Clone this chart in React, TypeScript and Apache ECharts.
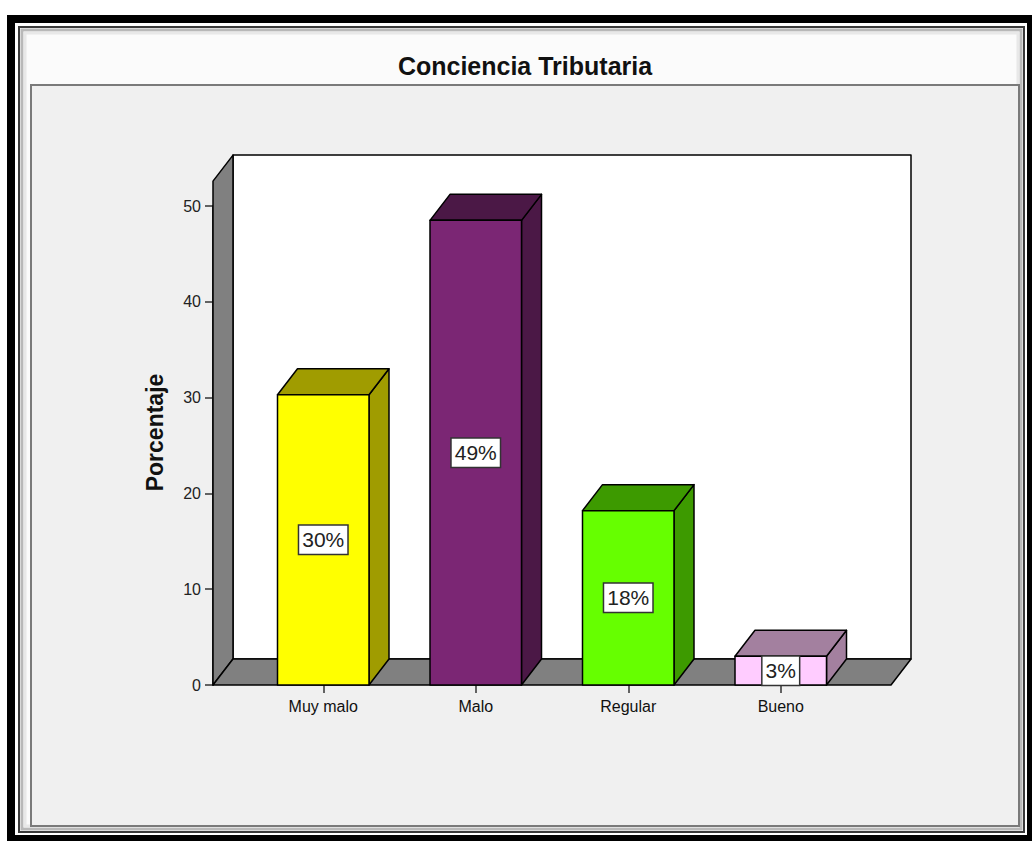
import React, { useEffect, useRef } from "react";
import * as echarts from "echarts";

const CATEGORIES = ["Muy malo", "Malo", "Regular", "Bueno"];
const PERCENTS = [30.3, 48.5, 18.2, 3.0];
const BAR_LABELS = ["30%", "49%", "18%", "3%"];
const Y_MIN = 0;
const Y_MAX = 50;
const Y_INTERVAL = 10;
const WALL_TOP = 52.6;

const FRONT_COLORS = ["#ffff00", "#7b2674", "#66ff00", "#ffccff"];
const SHADE_COLORS = ["#a09c00", "#4b1846", "#3d9a00", "#a3809f"];

const DX = 20;
const DY = -26;
const SIDE_PAD = 34;
const FONT = "Arial, 'Liberation Sans', sans-serif";

export default function App() {
  const ref = useRef<HTMLDivElement>(null);
  useEffect(() => {
    if (!ref.current) return;
    const chart = echarts.init(ref.current, null, { renderer: "svg" });
    const wallsRender = (params: any, api: any) => {
      const cs = params.coordSys;
      const fl = cs.x - SIDE_PAD;
      const fr = cs.x + cs.width + SIDE_PAD;
      const y0 = api.coord([0, 0])[1];
      const yT = api.coord([0, api.value(1)])[1];
      const st = { stroke: "#000", lineWidth: 1.5, lineJoin: "round" };
      return {
        type: "group",
        children: [
          {
            type: "polygon",
            shape: { points: [[fl + DX, y0 + DY], [fr + DX, y0 + DY], [fr + DX, yT + DY], [fl + DX, yT + DY]] },
            style: { fill: "#ffffff", ...st },
          },
          {
            type: "polygon",
            shape: { points: [[fl, y0], [fl + DX, y0 + DY], [fl + DX, yT + DY], [fl, yT]] },
            style: { fill: "#808080", ...st },
          },
          {
            type: "polygon",
            shape: { points: [[fl, y0], [fr, y0], [fr + DX, y0 + DY], [fl + DX, y0 + DY]] },
            style: { fill: "#808080", ...st },
          },
        ],
      };
    };
    const barsRender = (params: any, api: any) => {
      const idx = params.dataIndex;
      const i = api.value(0);
      const v = api.value(1);
      const top = api.coord([i, v]);
      const base = api.coord([i, 0]);
      const mid = api.coord([i, v / 2]);
      const bw = api.size([1, 0])[0] * 0.6;
      const x0 = top[0] - bw / 2;
      const x1 = top[0] + bw / 2;
      const yT = top[1];
      const yB = base[1];
      const st = { stroke: "#000", lineWidth: 1.5, lineJoin: "round" };
      return {
        type: "group",
        children: [
          {
            type: "polygon",
            shape: { points: [[x1, yT], [x1 + DX, yT + DY], [x1 + DX, yB + DY], [x1, yB]] },
            style: { fill: SHADE_COLORS[idx], ...st },
          },
          {
            type: "polygon",
            shape: { points: [[x0, yT], [x0 + DX, yT + DY], [x1 + DX, yT + DY], [x1, yT]] },
            style: { fill: SHADE_COLORS[idx], ...st },
          },
          {
            type: "rect",
            shape: { x: x0, y: yT, width: bw, height: yB - yT },
            style: { fill: FRONT_COLORS[idx], ...st },
          },
          {
            type: "text",
            style: {
              text: BAR_LABELS[idx],
              x: mid[0],
              y: mid[1],
              align: "center",
              verticalAlign: "middle",
              font: `21px ${FONT}`,
              fill: "#222",
              backgroundColor: "#ffffff",
              borderColor: "#333",
              borderWidth: 1.5,
              padding: [4, 3, 3, 3],
            },
          },
        ],
      };
    };
    chart.setOption({
      animation: false,
      backgroundColor: "#ffffff",
      graphic: {
        elements: [
          { type: "rect", z: -10, silent: true, shape: { x: 7, y: 15, width: 1040, height: 826 }, style: { fill: "#000" } },
          { type: "rect", z: -10, silent: true, shape: { x: 15, y: 23, width: 1012, height: 812 }, style: { fill: "#ffffff" } },
          { type: "rect", z: -10, silent: true, shape: { x: 19, y: 27, width: 1005, height: 805 }, style: { fill: "#fbfbfb", stroke: "#3a3a3a", lineWidth: 2 } },
          { type: "rect", z: -10, silent: true, shape: { x: 22, y: 30, width: 999, height: 799 }, style: { fill: "none", stroke: "#b8b8b8", lineWidth: 3 } },
          { type: "rect", z: -10, silent: true, shape: { x: 25, y: 33, width: 993, height: 793 }, style: { fill: "none", stroke: "#e8e8e8", lineWidth: 3 } },
          { type: "rect", z: -10, silent: true, shape: { x: 31, y: 85, width: 988, height: 741 }, style: { fill: "#f0f0f0", stroke: "#7a7a7a", lineWidth: 2 } },
          {
            type: "text",
            z: 10,
            x: 525,
            y: 66,
            style: {
              text: "Conciencia Tributaria",
              align: "center",
              verticalAlign: "middle",
              font: `bold 25px ${FONT}`,
              fill: "#111",
            },
          },
        ],
      },
      grid: { left: 247, right: 175, top: 206, bottom: 157, containLabel: false },
      xAxis: {
        type: "category",
        data: CATEGORIES,
        axisLine: { show: false },
        axisTick: { show: true, alignWithLabel: true, length: 8, lineStyle: { color: "#333", width: 1.5 } },
        axisLabel: { color: "#111", fontSize: 16, fontFamily: FONT, margin: 13 },
        splitLine: { show: false },
      },
      yAxis: {
        type: "value",
        min: Y_MIN,
        max: Y_MAX,
        interval: Y_INTERVAL,
        offset: SIDE_PAD,
        name: "Porcentaje",
        nameLocation: "middle",
        nameRotate: 90,
        nameGap: 47,
        nameTextStyle: { color: "#111", fontSize: 23, fontWeight: "bold", fontFamily: FONT, padding: [0, 0, 0, 26] },
        axisLine: { show: true, lineStyle: { color: "#000", width: 1.5 } },
        axisTick: { show: true, length: 8, lineStyle: { color: "#333", width: 1.5 } },
        axisLabel: { color: "#222", fontSize: 16, fontFamily: FONT, margin: 12 },
        splitLine: { show: false },
      },
      series: [
        {
          type: "custom",
          name: "walls",
          z: 1,
          silent: true,
          clip: false,
          renderItem: wallsRender,
          data: [[0, WALL_TOP]],
        },
        {
          type: "custom",
          name: "Porcentaje",
          z: 2,
          silent: true,
          clip: false,
          renderItem: barsRender,
          data: PERCENTS.map((v, i) => [i, v]),
        },
      ],
    });
    return () => chart.dispose();
  }, []);
  return <div ref={ref} style={{ position: "absolute", left: 0, top: 0, width: 1032, height: 842 }} />;
}
